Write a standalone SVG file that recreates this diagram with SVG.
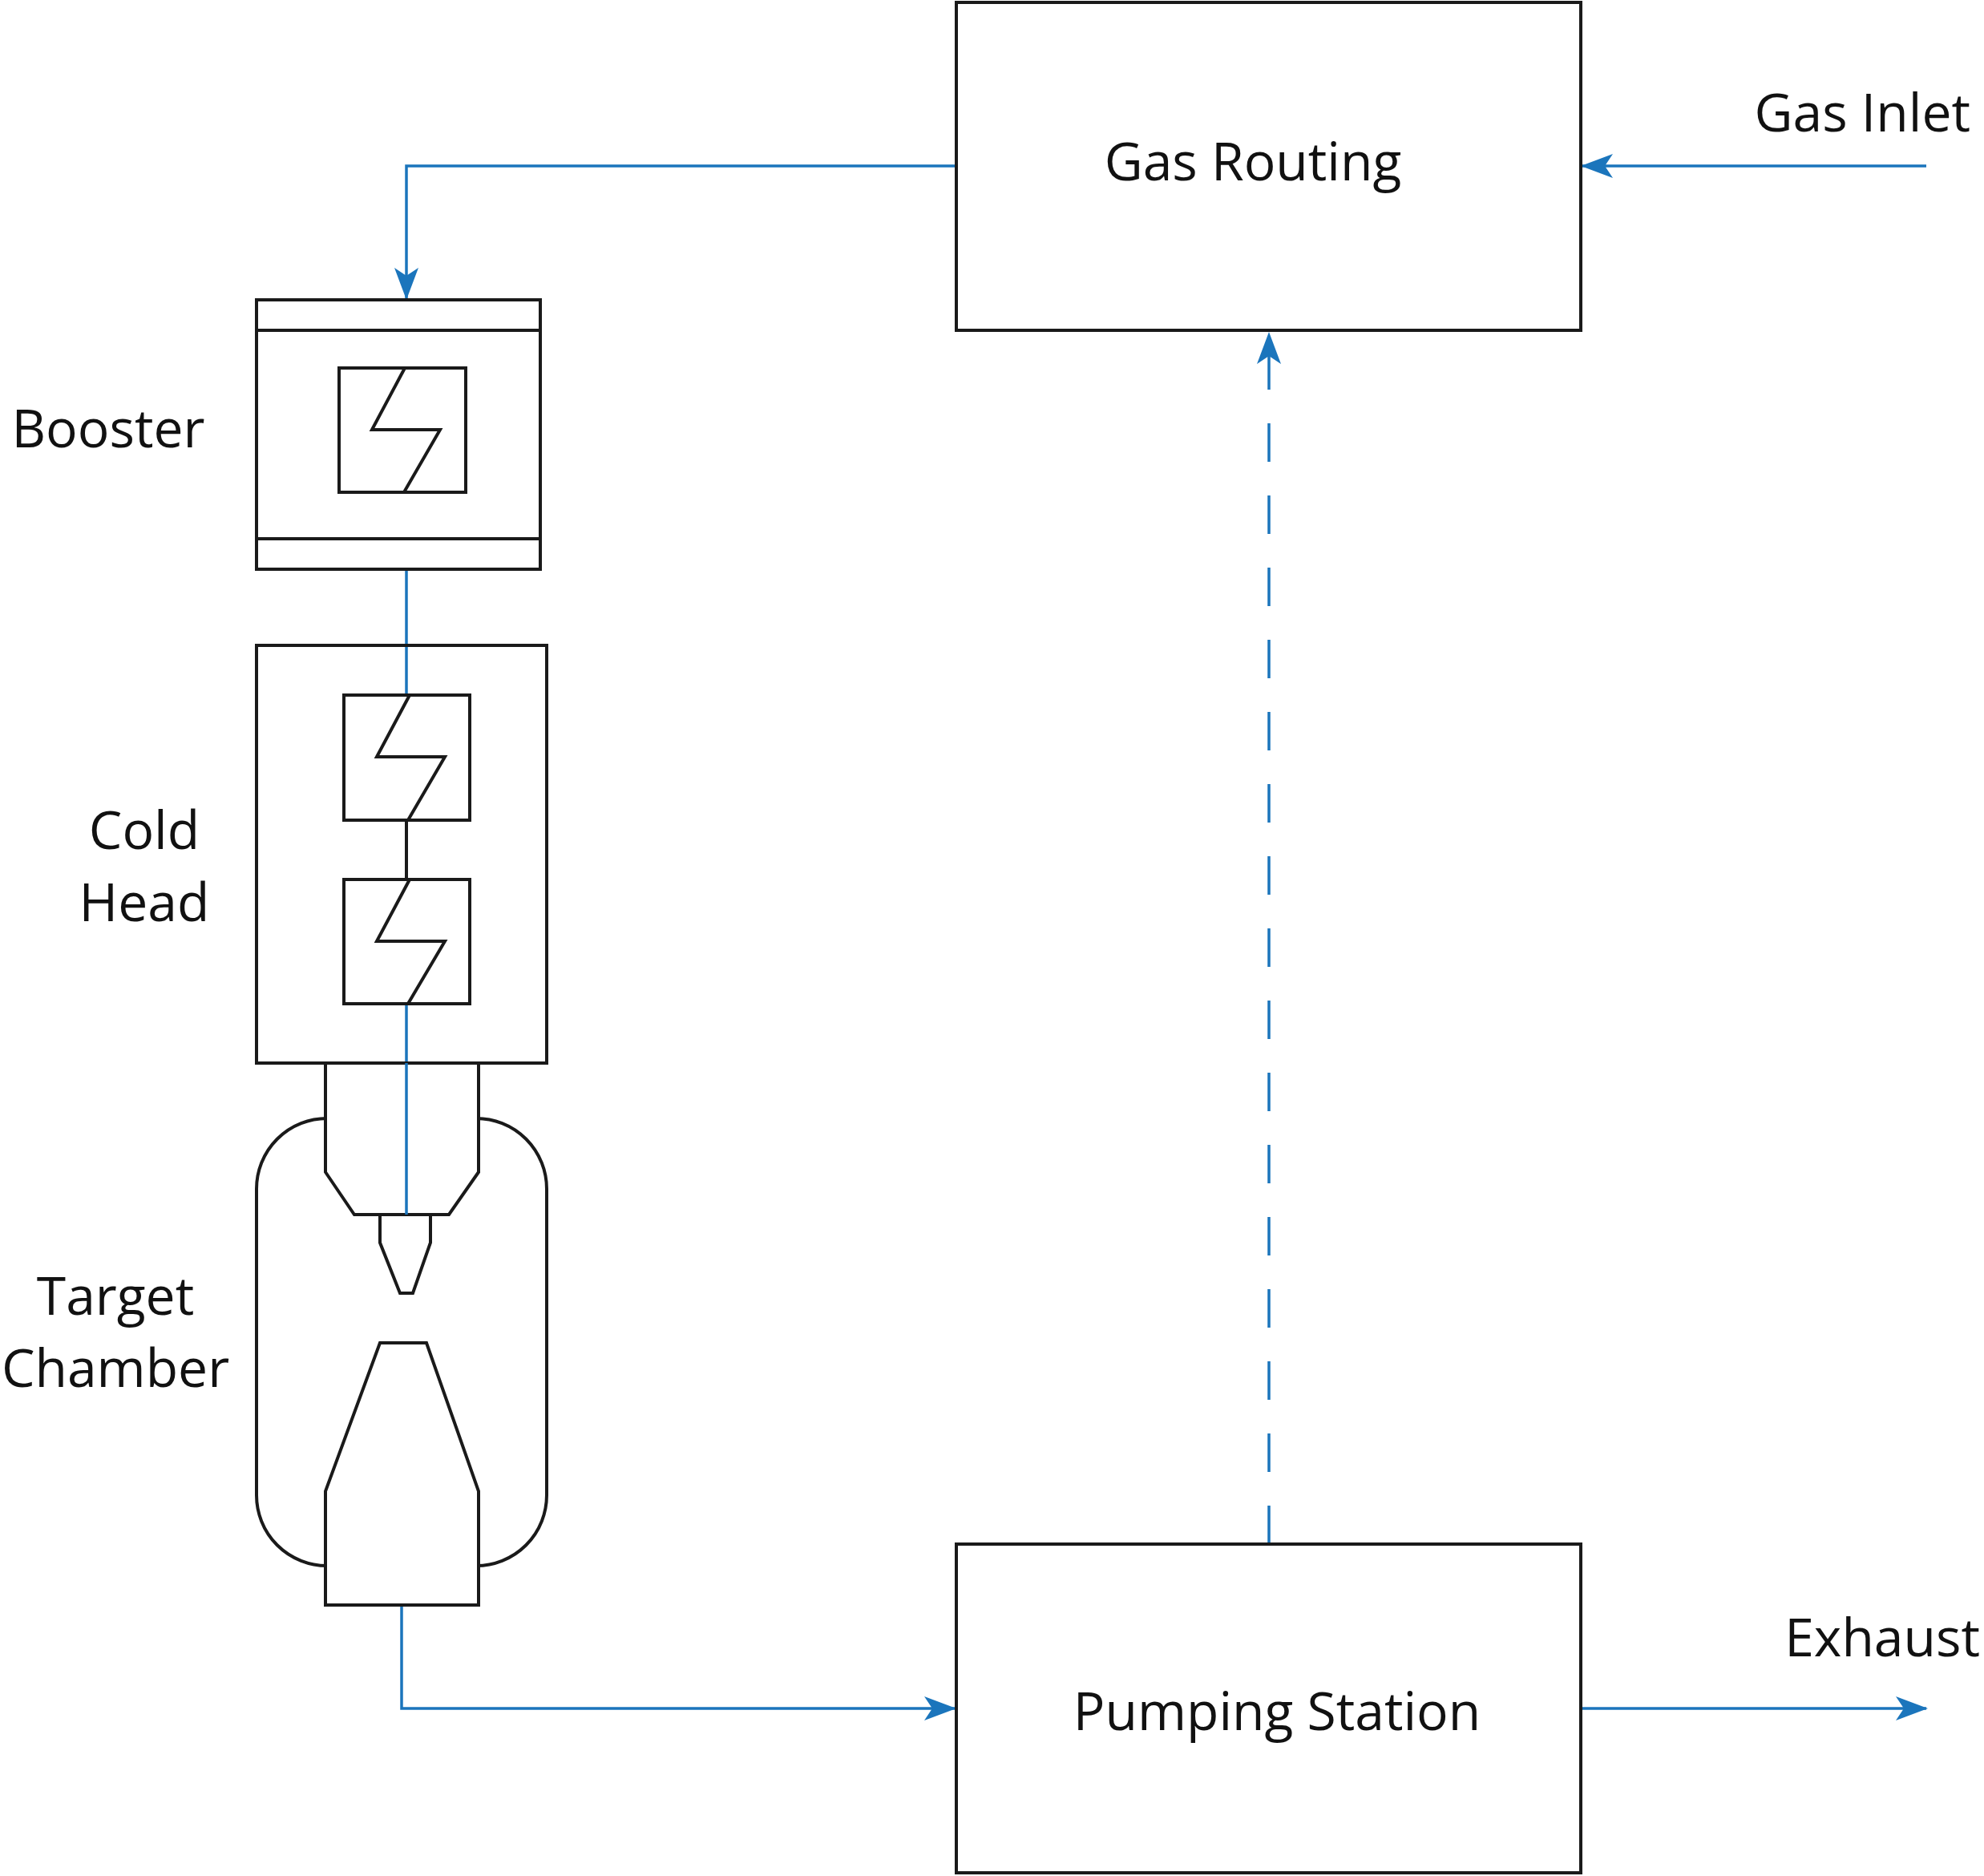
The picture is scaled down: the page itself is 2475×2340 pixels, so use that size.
<svg xmlns="http://www.w3.org/2000/svg" width="2475" height="2340" viewBox="0 0 2475 2340">
<style>
.k{fill:none;stroke:#1a1a1a;stroke-width:4}
.w{fill:#fff;stroke:#1a1a1a;stroke-width:4}
.b{fill:none;stroke:#1b75bc;stroke-width:3.5}
text{font-family:"Open Sans","Liberation Sans",sans-serif;font-size:66px;fill:#111}
</style>
<defs>
<marker id="a" markerUnits="userSpaceOnUse" viewBox="0 0 40 30" refX="38" refY="15" markerWidth="40" markerHeight="30" orient="auto">
<path d="M0,0 L40,15 L0,30 L10,15 Z" fill="#1b75bc"/>
</marker>
</defs>
<rect width="2475" height="2340" fill="#fff"/>
<g id="connectors">
<polyline class="b" points="1193,207 507,207 507,372" marker-end="url(#a)"/>
<line class="b" x1="507" y1="710" x2="507" y2="867"/>
<line class="b" x1="507" y1="1252" x2="507" y2="1515"/>
<polyline class="b" points="501,2002 501,2131 1191,2131" marker-end="url(#a)"/>
<line class="b" x1="1583" y1="1926" x2="1583" y2="416" stroke-dasharray="48,42" marker-end="url(#a)"/>
<line class="b" x1="2403" y1="207" x2="1974" y2="207" marker-end="url(#a)"/>
<line class="b" x1="1972" y1="2131" x2="2403" y2="2131" marker-end="url(#a)"/>
</g>
<g id="gas-routing"><rect class="k" x="1193" y="3" width="779" height="409"/><text x="1563" y="225" text-anchor="middle">Gas Routing</text></g>
<g id="pumping-station"><rect class="k" x="1193" y="1926" width="779" height="410"/><text x="1593" y="2158" text-anchor="middle">Pumping Station</text></g>
<g id="gas-inlet"><text x="2458" y="164" text-anchor="end">Gas Inlet</text></g>
<g id="exhaust"><text x="2470" y="2066" text-anchor="end">Exhaust</text></g>
<g id="booster">
<rect class="k" x="320" y="374" width="354" height="336"/>
<line class="k" x1="320" y1="412" x2="674" y2="412"/>
<line class="k" x1="320" y1="672" x2="674" y2="672"/>
<rect class="k" x="423" y="459" width="158" height="155"/>
<polyline class="k" points="505,459 464,536 549,536 504,614"/>
<text x="135" y="558" text-anchor="middle">Booster</text>
</g>
<g id="cold-head">
<rect class="k" x="320" y="805" width="362" height="521"/>
<rect class="k" x="429" y="867" width="157" height="156"/>
<polyline class="k" points="511,867 470,944 555,944 509,1023"/>
<line class="k" x1="507" y1="1023" x2="507" y2="1097"/>
<rect class="k" x="429" y="1097" width="157" height="155"/>
<polyline class="k" points="511,1097 470,1174 555,1174 509,1252"/>
<text x="180" y="1059" text-anchor="middle">Cold</text>
<text x="180" y="1149" text-anchor="middle">Head</text>
</g>
<g id="target-chamber">
<rect class="k" x="320" y="1395" width="362" height="558" rx="88" ry="88"/>
<polygon class="w" points="406,1326 597,1326 597,1462 560,1515 442,1515 406,1462"/>
<polygon class="w" points="474,1515 537,1515 537,1550 515,1613 499,1613 474,1550"/>
<line class="b" x1="507" y1="1326" x2="507" y2="1515"/>
<polygon class="w" points="474,1675 532,1675 597,1860 597,2002 406,2002 406,1860"/>
<text x="144" y="1640" text-anchor="middle">Target</text>
<text x="144" y="1730" text-anchor="middle">Chamber</text>
</g>
</svg>
